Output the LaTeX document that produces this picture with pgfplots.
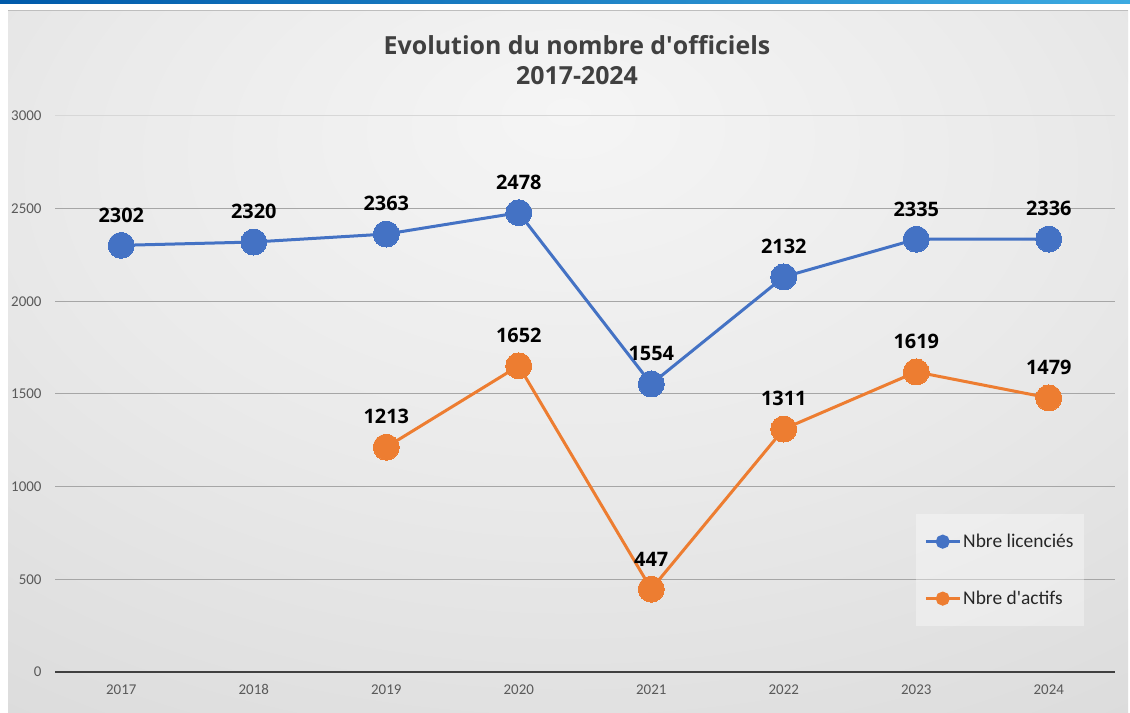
\documentclass[border=0pt]{standalone}
\usepackage{pgfplots}
\pgfplotsset{compat=1.18}
\usepackage{fontspec}
\setmainfont{Carlito}
\newfontfamily\titlefont{Open Sans}
\definecolor{myblue}{HTML}{4472C4}
\definecolor{myorange}{HTML}{ED7D31}
\definecolor{titlegray}{HTML}{404040}
\definecolor{tickgray}{HTML}{595959}
\definecolor{gridgray}{HTML}{A6A6A6}
\definecolor{bgA}{HTML}{F5F5F5}
\definecolor{bgB}{HTML}{EAEAEA}
\definecolor{bgC}{HTML}{D9D9D9}
\definecolor{bgD}{HTML}{C9C9C9}
\pgfdeclareradialshading{panelbg}{\pgfpoint{0bp}{18bp}}{color(0bp)=(bgA); color(22bp)=(bgB); color(48bp)=(bgC); color(75bp)=(bgD); color(100bp)=(bgD)}
\begin{document}
\begin{tikzpicture}[x=1bp,y=1bp]
\path[use as bounding box] (0,0) rectangle (1130,713);
\fill[white] (0,0) rectangle (1130,713);
\shade[left color={rgb,255:red,0;green,90;blue,170}, right color={rgb,255:red,60;green,170;blue,225}] (0,709) rectangle (1130,713);
\shade[shading=panelbg] (8,0) rectangle (1128,702);
\draw[color={rgb,255:red,190;green,190;blue,190}, line width=1bp] (8,702) -- (1128,702);
\node[font=\titlefont\bfseries\fontsize{25}{30}\selectfont, text=titlegray, align=center] at (577,653) {Evolution du nombre d\textquotesingle officiels\\2017-2024};
\begin{axis}[
  at={(55bp,41bp)}, anchor=south west,
  scale only axis, width=1060bp, height=556bp,
  xmin=-0.5, xmax=7.5, ymin=0, ymax=3000,
  clip=false,
  axis x line*=bottom, axis y line*=left,
  y axis line style={draw=none},
  x axis line style={draw=titlegray, line width=2.2bp},
  xtick={0,...,7},
  xticklabels={2017,2018,2019,2020,2021,2022,2023,2024},
  xtick style={draw=none},
  extra x ticks={-0.5,0.5,...,7.5},
  extra x tick labels={},
  extra x tick style={major tick length=4bp, tick align=outside, tick style={draw=titlegray, line width=1.5bp}},
  ytick={0,500,...,2500},
  extra y ticks={3000},
  extra y tick style={grid style={draw=gridgray!45, line width=1bp}},
  ytick style={draw=none},
  ymajorgrids,
  grid style={draw=gridgray, line width=1bp},
  /pgf/number format/assume math mode=true,
  /pgf/number format/set thousands separator={},
  ticklabel style={font=\fontsize{15}{16}\selectfont, text=tickgray},
  yticklabel style={anchor=east, xshift=-10bp},
  xticklabel style={anchor=north, yshift=-9bp},
  every node near coord/.style={font=\titlefont\bfseries\fontsize{20}{22}\selectfont, text=black, anchor=south, inner sep=0pt, yshift=23bp},
  legend style={at={(0.8123,0.2842)}, anchor=north west, draw=none, fill=white, fill opacity=0.35, text opacity=1,
    font=\fontsize{19.5}{22}\selectfont, text={rgb,255:red,38;green,38;blue,38}, inner xsep=8bp, inner ysep=18bp, row sep=38bp},
  legend cell align=left,
  legend image code/.code={\draw[#1, mark=none, draw opacity=1] (0bp,0bp) -- (34bp,0bp); \fill[#1, fill opacity=1] (17bp,0bp) circle (5.5bp);},
]
\addplot[myblue, line width=3bp, mark=*, mark size=13bp, mark options={fill=myblue, draw=myblue, line width=0pt}, nodes near coords] coordinates {
(0,2302) (1,2320) (2,2363) (3,2478) (4,1554) (5,2132) (6,2335) (7,2336)};
\addlegendentry{Nbre licenciés}
\addplot[myorange, line width=3bp, mark=*, mark size=13bp, mark options={fill=myorange, draw=myorange, line width=0pt}, nodes near coords] coordinates {
(2,1213) (3,1652) (4,447) (5,1311) (6,1619) (7,1479)};
\addlegendentry{Nbre d\textquotesingle actifs}
\end{axis}
\end{tikzpicture}
\end{document}
